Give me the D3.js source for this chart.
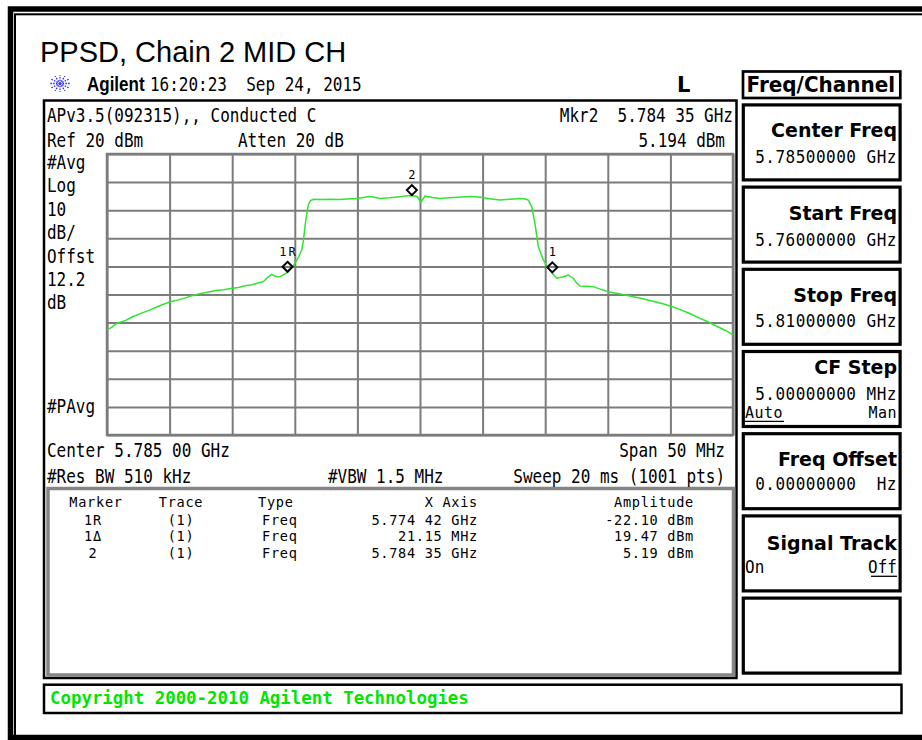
<!DOCTYPE html>
<html lang="en">
<head>
<meta charset="utf-8">
<title>PPSD, Chain 2 MID CH</title>
<script src="https://d3js.org/d3.v7.min.js"></script>
<style>
    body { margin: 0; background: #fff; }
    svg { display: block; }
    .mono { font-family: "DejaVu Sans Mono", monospace; fill: #000; white-space: pre; }
    .key { font-family: "DejaVu Sans", sans-serif; font-weight: bold; fill: #000; white-space: pre; }
</style>
</head>
<body>
<svg width="922" height="740"></svg>
<script>
    // trace: frequency (MHz) and level (dBm)
    var traceFreq = [5760.0, 5760.4, 5760.8, 5761.5, 5762.0, 5762.6, 5763.5, 5764.2, 5765.0, 5765.6,
        5766.2, 5766.8, 5767.4, 5768.0, 5768.7, 5769.3, 5770.0, 5770.5, 5771.0, 5771.5,
        5772.0, 5772.5, 5772.9, 5773.15, 5773.4, 5773.7, 5774.0, 5774.42, 5774.7, 5775.0,
        5775.3, 5775.55, 5775.7, 5775.81, 5775.95, 5776.08, 5776.25, 5776.5, 5777.2, 5777.8,
        5778.5, 5779.2, 5779.9, 5780.5, 5780.9, 5781.3, 5781.8, 5782.6, 5783.4, 5784.0,
        5784.35, 5784.8, 5785.06, 5785.4, 5786.0, 5786.6, 5787.3, 5788.0, 5789.0, 5789.5,
        5790.1, 5790.7, 5791.4, 5792.2, 5793.0, 5793.4, 5793.65, 5793.92, 5794.18, 5794.45,
        5794.85, 5795.25, 5795.57, 5795.92, 5796.45, 5796.84, 5797.24, 5797.5, 5797.78, 5798.3,
        5798.84, 5799.4, 5800.04, 5801.0, 5802.04, 5802.8, 5803.6, 5804.4, 5805.1, 5805.7,
        5806.3, 5806.8, 5807.36, 5808.0, 5808.7, 5809.4, 5810.0];
    var traceLevel = [-42.6, -41.6, -40.2, -39.2, -38.0, -36.9, -35.4, -34.0, -32.7, -32.0,
        -31.3, -30.4, -29.7, -29.2, -28.6, -28.3, -27.8, -27.5, -26.9, -26.6,
        -26.0, -25.4, -23.6, -22.8, -23.4, -23.8, -23.3, -22.1, -20.7, -19.0,
        -16.6, -14.2, -10.5, -5.9, -1.5, 1.9, 3.4, 3.9, 3.8, 3.9,
        3.8, 4.0, 4.2, 4.5, 4.9, 4.7, 4.2, 4.4, 4.8, 5.1,
        5.19, 4.8, 2.8, 5.0, 4.5, 4.2, 4.4, 4.6, 4.9, 4.8,
        4.4, 4.0, 3.6, 3.9, 4.2, 4.0, 3.6, 1.3, -4.7, -13.0,
        -17.7, -20.7, -22.4, -24.2, -23.7, -23.1, -24.2, -25.8, -27.0, -27.1,
        -27.2, -28.1, -29.0, -29.8, -30.8, -31.5, -32.4, -33.3, -34.3, -35.2,
        -36.3, -37.3, -38.5, -39.7, -41.3, -42.8, -44.4];

    var markerNames = ["1R", "1", "2"];
    var markerFreq = [5774.42, 5795.57, 5784.35];
    var markerLevel = [-22.10, -22.3, 5.19];

    var sideLabels = ["#Avg", "Log", "10", "dB/", "Offst", "12.2", "dB"];

    var tableHead = ["Marker", "Trace", "Type", "X Axis", "Amplitude"];
    var tableMarker = ["1R", "1\u0394", "2"];
    var tableTrace = ["(1)", "(1)", "(1)"];
    var tableType = ["Freq", "Freq", "Freq"];
    var tableX = ["5.774 42 GHz", "21.15 MHz", "5.784 35 GHz"];
    var tableAmp = ["-22.10 dBm", "19.47 dBm", "5.19 dBm"];

    var keyTitles = ["Center Freq", "Start Freq", "Stop Freq", "CF Step", "Freq Offset", "Signal Track", ""];
    var keyValues = ["5.78500000 GHz", "5.76000000 GHz", "5.81000000 GHz", "5.00000000 MHz", "0.00000000  Hz", "", ""];

    var svg = d3.select("svg");

    function label(parent, x, y, s, cls, size, anchor, sy) {
        return parent.append("text")
            .attr("class", cls)
            .attr("transform", "translate(" + x + "," + y + ") scale(1," + (sy || 1) + ")")
            .attr("font-size", size)
            .attr("text-anchor", anchor || "start")
            .text(s);
    }

    // outer frame
    svg.append("rect").attr("x", 10.5).attr("y", 9).attr("width", 1000).attr("height", 728.5)
        .attr("fill", "none").attr("stroke", "#000").attr("stroke-width", 5.5);
    svg.append("rect").attr("x", 15).attr("y", 14.3).attr("width", 1000).attr("height", 722)
        .attr("fill", "none").attr("stroke", "#000").attr("stroke-width", 2);

    // title
    svg.append("text").attr("x", 40).attr("y", 62)
        .style("font-family", "'Liberation Sans', Arial, sans-serif").style("font-size", "29px")
        .text("PPSD, Chain 2 MID CH");

    // agilent star
    var star = svg.append("g").attr("transform", "translate(60,83.5)");
    d3.range(12).forEach(function(i) {
        var a = i * Math.PI / 6;
        star.append("line")
            .attr("x1", Math.cos(a) * 2.5).attr("y1", Math.sin(a) * 2.2)
            .attr("x2", Math.cos(a) * 10).attr("y2", Math.sin(a) * 8.5)
            .attr("stroke", "#2b2bff").attr("stroke-width", 1.3)
            .attr("stroke-dasharray", "1.6,1.2");
    });
    star.append("circle").attr("r", 1.6).attr("fill", "#2b2bff");

    svg.append("text").attr("transform", "translate(87,91) scale(1,1.2)")
        .style("font-family", "'Liberation Sans', Arial, sans-serif").style("font-weight", "bold")
        .style("font-size", "17px").text("Agilent");
    label(svg, 150, 91, "16:20:23  Sep 24, 2015", "mono", 16, "start", 1.2);
    label(svg, 677, 91.5, "L", "key", 21, "start", 1.05);

    // main screen box and marker table box
    svg.append("rect").attr("x", 44).attr("y", 100.5).attr("width", 692.5).attr("height", 577.5)
        .attr("fill", "none").attr("stroke", "#000").attr("stroke-width", 2.5);
    svg.append("rect").attr("x", 48).attr("y", 488.5).attr("width", 685.5).attr("height", 186.5)
        .attr("fill", "none").attr("stroke", "#858585").attr("stroke-width", 3.5);

    // annotation lines
    label(svg, 47, 121.5, "APv3.5(092315),, Conducted C", "mono", 16, "start", 1.2);
    label(svg, 733, 121.5, "Mkr2  5.784 35 GHz", "mono", 16, "end", 1.2);
    label(svg, 47, 146.5, "Ref 20 dBm", "mono", 16, "start", 1.2);
    label(svg, 238, 146.5, "Atten 20 dB", "mono", 16, "start", 1.2);
    label(svg, 725, 146.5, "5.194 dBm", "mono", 16, "end", 1.2);

    sideLabels.forEach(function(s, i) {
        label(svg, 47, 169 + i * 23.4, s, "mono", 16, "start", 1.2);
    });
    label(svg, 47, 413, "#PAvg", "mono", 16, "start", 1.2);

    label(svg, 47, 457, "Center 5.785 00 GHz", "mono", 16, "start", 1.2);
    label(svg, 725, 457, "Span 50 MHz", "mono", 16, "end", 1.2);
    label(svg, 47, 483, "#Res BW 510 kHz", "mono", 16, "start", 1.2);
    label(svg, 328, 483, "#VBW 1.5 MHz", "mono", 16, "start", 1.2);
    label(svg, 725, 483, "Sweep 20 ms (1001 pts)", "mono", 16, "end", 1.2);

    // plot scales
    var x = d3.scaleLinear().domain([5760, 5810]).range([107, 733]);
    var y = d3.scaleLinear().domain([-80, 20]).range([435, 154]);

    var grid = svg.append("g");
    grid.append("g")
        .attr("transform", "translate(0,435)")
        .call(d3.axisBottom(x).ticks(10).tickSize(-(435 - 154)).tickFormat(""));
    grid.append("g")
        .attr("transform", "translate(107,0)")
        .call(d3.axisLeft(y).ticks(10).tickSize(-(733 - 107)).tickFormat(""));
    grid.selectAll(".domain").remove();
    grid.selectAll(".tick line").attr("stroke", "#7c7c7c").attr("stroke-width", 2);
    svg.append("rect").attr("x", 107).attr("y", 154).attr("width", 733 - 107).attr("height", 435 - 154)
        .attr("fill", "none").attr("stroke", "#7c7c7c").attr("stroke-width", 2.5);

    // trace
    var line = d3.line()
        .x(function(d, i) { return x(traceFreq[i]); })
        .y(function(d) { return y(d); });
    svg.append("path")
        .datum(traceLevel)
        .attr("d", line)
        .attr("fill", "none")
        .attr("stroke", "#2ee62e")
        .attr("stroke-width", 1.5);

    // markers
    markerNames.forEach(function(name, i) {
        var mx = x(markerFreq[i]), my = y(markerLevel[i]) - 5.5;
        svg.append("path")
            .attr("transform", "translate(" + mx + "," + my + ")")
            .attr("d", "M0,-5L5,0L0,5L-5,0Z")
            .attr("fill", "none").attr("stroke", "#000").attr("stroke-width", 2);
        svg.append("text")
            .attr("class", "mono")
            .attr("x", mx + (name.length > 1 ? 1 : 0)).attr("y", my - 11)
            .attr("font-size", 12)
            .attr("letter-spacing", name.length > 1 ? 2 : 0)
            .attr("text-anchor", "middle")
            .text(name);
    });

    // marker table
    var tf = 13.6, ts = 1.04, rowY = [524.5, 541.2, 558];
    function cell(xp, yp, s, anchor) {
        label(svg, xp, yp, s, "mono", tf, anchor, ts).attr("letter-spacing", 0.7);
    }
    cell(96, 506.5, tableHead[0], "middle");
    cell(181, 506.5, tableHead[1], "middle");
    cell(258, 506.5, tableHead[2], "start");
    cell(478, 506.5, tableHead[3], "end");
    cell(694, 506.5, tableHead[4], "end");
    rowY.forEach(function(ry, i) {
        cell(93, ry, tableMarker[i], "middle");
        cell(181, ry, tableTrace[i], "middle");
        cell(262, ry, tableType[i], "start");
        cell(478, ry, tableX[i], "end");
        cell(694, ry, tableAmp[i], "end");
    });

    // soft keys
    svg.append("rect").attr("x", 743).attr("y", 71.5).attr("width", 157.3).attr("height", 26.5)
        .attr("fill", "none").attr("stroke", "#000").attr("stroke-width", 2.7);
    label(svg, 746.5, 91.7, "Freq/Channel", "key", 20, "start", 1.03);

    var keyTitleDy = [34, 34, 34, 24.5, 34.3, 35.7, 0];
    var keyValueDy = [60, 60, 59.5, 50, 57.7, 0, 0];
    keyTitles.forEach(function(t, i) {
        var top = 103.3 + i * 82.2;
        svg.append("rect").attr("x", 743.3).attr("y", top + 1.6).attr("width", 156.8).attr("height", 75)
            .attr("fill", "none").attr("stroke", "#000").attr("stroke-width", 3.2);
        if (t) label(svg, 897, top + keyTitleDy[i], t, "key", 19, "end", 1.02);
        if (keyValues[i]) label(svg, 897, top + keyValueDy[i], keyValues[i], "mono", 16, "end", 1.05)
            .attr("letter-spacing", 0.5);
    });
    // Auto / Man and On / Off toggles
    var cfTop = 103.3 + 3 * 82.2, stTop = 103.3 + 5 * 82.2;
    label(svg, 745, cfTop + 68.5, "Auto", "mono", 15, "start", 1.05).attr("letter-spacing", 0.5);
    svg.append("line").attr("x1", 745).attr("x2", 784).attr("y1", cfTop + 71.5).attr("y2", cfTop + 71.5)
        .attr("stroke", "#000").attr("stroke-width", 1.3);
    label(svg, 897, cfTop + 68.5, "Man", "mono", 15, "end", 1.05).attr("letter-spacing", 0.5);
    label(svg, 745, stTop + 59, "On", "mono", 16, "start", 1.15);
    label(svg, 897, stTop + 59, "Off", "mono", 16, "end", 1.15);
    svg.append("line").attr("x1", 871).attr("x2", 897).attr("y1", stTop + 62).attr("y2", stTop + 62)
        .attr("stroke", "#000").attr("stroke-width", 1.3);

    // copyright bar
    svg.append("rect").attr("x", 44).attr("y", 684.7).attr("width", 857.5).attr("height", 28.3)
        .attr("fill", "none").attr("stroke", "#000").attr("stroke-width", 2.5);
    svg.append("text").attr("x", 50).attr("y", 704)
        .style("font-family", "'DejaVu Sans Mono', monospace").style("font-weight", "bold")
        .style("font-size", "17.4px").style("fill", "#00e600")
        .text("Copyright 2000-2010 Agilent Technologies");
</script>
</body>
</html>
